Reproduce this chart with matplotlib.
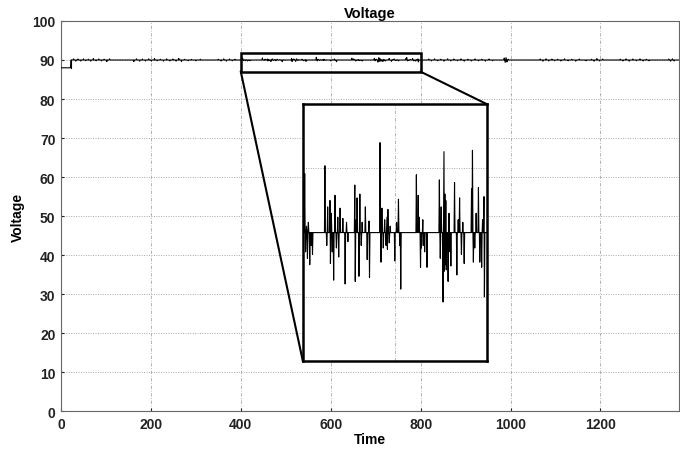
import numpy as np
import matplotlib.pyplot as plt

plt.rcParams['font.family'] = ['Liberation Sans', 'DejaVu Sans']
plt.rcParams['font.weight'] = 'bold'

# sampled voltage trace: flat 90 V after start-up, plus the recorded disturbances
t_end = 1375
v_nominal = 90.0
v_startup = 88.0
t_startup = 22

# disturbances outside the zoomed window
spike_t_outer = [28, 33, 38, 44, 50, 55, 61, 66, 72, 78, 84, 90, 96, 102, 108,
                 162, 168, 175, 181, 188, 195, 201, 208, 214, 221, 228, 235, 242, 249,
                 256, 262, 268, 275, 283, 290, 300, 310,
                 350, 356, 362, 368, 375, 381, 387,
                 818, 824, 831, 838, 845, 852, 860, 867, 874, 882, 890, 897, 905, 913,
                 921, 929, 936, 944, 952, 960,
                 986, 988, 990, 992, 995,
                 1066, 1072, 1079, 1085, 1092, 1098, 1105, 1112, 1120, 1128, 1136, 1145,
                 1153, 1168, 1180, 1186, 1192, 1198, 1205,
                 1244, 1250, 1257, 1264, 1272, 1280, 1288, 1295, 1302, 1308,
                 1352, 1356, 1360, 1364]
spike_v_outer = [90.3, 89.7, 90.25, 89.75, 90.3, 89.8, 90.2, 89.7, 90.35, 89.8, 90.25, 89.75, 90.2, 89.6, 90.3,
                 89.6, 90.3, 89.7, 90.25, 89.75, 90.3, 89.7, 90.35, 89.8, 90.2, 89.7, 90.3, 89.75, 90.25,
                 89.7, 90.4, 89.6, 90.2, 89.8, 90.15, 89.8, 90.2,
                 90.2, 89.75, 90.3, 89.7, 90.25, 89.8, 90.2,
                 90.25, 89.75, 90.3, 89.8, 90.2, 89.7, 90.3, 89.75, 90.25, 89.8, 90.3, 89.7, 90.2, 89.75,
                 90.3, 89.8, 90.2, 89.7, 90.25, 89.8,
                 90.5, 89.4, 90.6, 89.5, 90.2,
                 90.25, 89.7, 90.3, 89.75, 90.25, 89.8, 90.2, 89.75, 90.3, 89.8, 90.2, 89.7,
                 90.25, 89.8, 90.2, 89.7, 90.35, 89.75, 90.25,
                 90.2, 89.75, 90.3, 89.7, 90.25, 89.8, 90.3, 89.75, 90.2, 89.8,
                 90.25, 89.7, 90.3, 89.75]

# disturbances inside the zoomed window (400-800)
spike_t_zoom = [404, 406, 408, 410, 412, 415, 418, 421,
                448, 452, 454, 459, 460, 462, 464, 467, 470, 473, 476, 478, 481, 487, 492, 495, 498,
                513, 514, 516, 518, 522, 524, 527, 529, 536, 540, 544, 545,
                568, 570, 572, 575, 578, 581, 583, 584, 585, 588, 590,
                600, 604, 608, 611, 613,
                647, 651, 653, 656, 658, 661, 662, 665, 670,
                697, 699, 701, 705, 707, 708, 709, 710, 711, 712, 716, 718, 720, 722,
                730, 735, 738, 741, 745, 748, 751,
                767, 769, 771, 774, 777, 782, 785, 789, 791, 794, 795]
spike_v_zoom = [90.46, 89.85, 90.05, 89.8, 90.08, 89.75, 89.9, 89.83,
                90.52, 89.9, 90.2, 90.25, 89.76, 90.15, 89.85, 89.63, 90.29, 89.88, 90.12, 89.81, 90.19, 90.11, 89.6, 90.08, 89.93,
                90.37, 89.62, 90.1, 90.27, 89.66, 90.3, 89.9, 90.08, 90.2, 89.79, 90.09, 89.65,
                90.7, 89.77, 90.19, 89.88, 90.1, 89.9, 90.12, 89.87, 90.18, 89.92, 90.05,
                89.78, 90.08, 90.26, 89.9, 89.56,
                90.45, 90.29, 90.12, 89.73, 89.88, 90.1, 89.9, 89.85, 89.73,
                90.41, 89.8, 90.2, 89.46, 90.63, 89.7, 90.3, 89.75, 90.25, 89.71, 89.62, 90.15, 89.85, 89.74,
                90.39, 89.67, 90.1, 90.27, 89.83, 90.08, 89.76,
                90.34, 90.64, 89.77, 89.88, 90.15, 90.35, 89.77, 89.73, 90.1, 90.28, 89.5]

x_ticks = [0, 200, 400, 600, 800, 1000, 1200]
y_ticks = [0, 10, 20, 30, 40, 50, 60, 70, 80, 90, 100]

# zoom window and where its enlarged copy sits on the main axes
zoom_x = (400, 800)
zoom_y = (87.0, 91.7)
zoom_ylim = (89.0, 91.0)
inset_box = [538, 12.8, 409, 65.9]

t = np.arange(0, t_end + 1, 1.0)
volt = np.full(t.shape, v_nominal)
volt[t < t_startup] = v_startup
volt[np.array(spike_t_outer)] = spike_v_outer
volt[np.array(spike_t_zoom)] = spike_v_zoom


def style_grid(a):
    a.xaxis.grid(True, color='#a8a8a8', linestyle=(0, (4, 2, 1, 2)), linewidth=0.6)
    a.yaxis.grid(True, color='#a8a8a8', linestyle=(0, (1, 1.5)), linewidth=0.7)


fig = plt.figure(figsize=(6.8, 4.64), dpi=100)
ax = fig.add_axes([0.0897, 0.112, 0.909, 0.8406])

ax.plot(t, volt, color='black', linewidth=0.8, zorder=3)
# start-up step as a vertical edge
ax.plot([t_startup, t_startup], [v_startup, v_nominal], color='black', linewidth=0.8, zorder=3)
ax.set_xlim(0, t_end)
ax.set_ylim(0, 100)
ax.set_xticks(x_ticks)
ax.set_yticks(y_ticks)
style_grid(ax)
ax.tick_params(labelsize=10, length=2, direction='in', colors='#222222', pad=4)
for s in ax.spines.values():
    s.set_color('#666666')
    s.set_linewidth(0.8)
ax.set_title('Voltage', fontsize=10.5, fontweight='bold', pad=3)
ax.set_xlabel('Time', fontsize=10, fontweight='bold', labelpad=1)
ax.set_ylabel('Voltage', fontsize=10, fontweight='bold', labelpad=5)

# zoom window outline and connectors
ax.add_patch(plt.Rectangle((zoom_x[0], zoom_y[0]), zoom_x[1] - zoom_x[0], zoom_y[1] - zoom_y[0],
                           fill=False, edgecolor='black', linewidth=1.8, zorder=5))
ax.plot([zoom_x[0], inset_box[0]], [zoom_y[0], inset_box[1]], color='black', linewidth=1.5, zorder=5)
ax.plot([zoom_x[1], inset_box[0] + inset_box[2]], [zoom_y[0], inset_box[1] + inset_box[3]],
        color='black', linewidth=1.5, zorder=5)

ins = ax.inset_axes(inset_box, transform=ax.transData, zorder=6)
ins.plot(t, volt, color='black', linewidth=0.8)
ins.set_xlim(*zoom_x)
ins.set_ylim(*zoom_ylim)
ins.set_xticks([600])
ins.set_yticks([89.5, 90.5])
style_grid(ins)
ins.tick_params(length=0, labelbottom=False, labelleft=False)
for s in ins.spines.values():
    s.set_color('black')
    s.set_linewidth(1.8)

fig.savefig('out.png', dpi=100)
